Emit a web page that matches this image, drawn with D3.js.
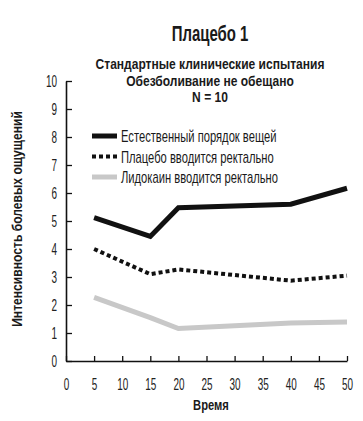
<!DOCTYPE html>
<html>
<head>
<meta charset="utf-8">
<script src="https://cdn.jsdelivr.net/npm/d3@7"></script>
<style>
  body { margin: 0; background: #fff; }
  svg { font-family: "Liberation Sans", Arial, sans-serif; }
</style>
</head>
<body>
<div id="chart"></div>
<script>
// data
var times = [5, 15, 20, 40, 50];
var natural = [5.12, 4.45, 5.47, 5.6, 6.17];
var placebo = [4.0, 3.1, 3.27, 2.87, 3.05];
var lidocaine = [2.27, 1.55, 1.16, 1.36, 1.39];
var seriesNames = ["Естественный порядок вещей", "Плацебо вводится ректально", "Лидокаин вводится ректально"];
var xTicks = [0, 5, 10, 15, 20, 25, 30, 35, 40, 45, 50];
var yTicks = [0, 1, 2, 3, 4, 5, 6, 7, 8, 9, 10];

var width = 363, height = 421;
var margin = {left: 66, right: 16, top: 81, bottom: 60};

var svg = d3.select("#chart").append("svg")
    .attr("width", width)
    .attr("height", height);

// narrow text: the original uses a condensed face, squeeze horizontally
function label(parent, x, y, str, size, weight, anchor, k, rot) {
    var t = "translate(" + x + "," + y + ")" + (rot ? " rotate(" + rot + ")" : "") + " scale(" + k + ",1)";
    return parent.append("text")
        .attr("transform", t)
        .attr("text-anchor", anchor)
        .attr("font-size", size)
        .attr("font-weight", weight)
        .attr("fill", "#1a1a1a")
        .text(str);
}

var x = d3.scaleLinear().domain([0, 50]).range([margin.left, width - margin.right]);
var y = d3.scaleLinear().domain([0, 10]).range([height - margin.bottom, margin.top]);

var tickK = 0.62;

// axes, ticks point inward
var xAxis = svg.append("g")
    .attr("transform", "translate(0," + y(0) + ")")
    .call(d3.axisBottom(x).tickValues(xTicks).tickSize(-5).tickPadding(10).tickSizeOuter(0));
var yAxis = svg.append("g")
    .attr("transform", "translate(" + x(0) + ",0)")
    .call(d3.axisLeft(y).tickValues(yTicks).tickSize(-6).tickPadding(9).tickSizeOuter(0));

svg.selectAll(".domain").attr("stroke", "#111").attr("stroke-width", 1.6);
svg.selectAll(".tick line").attr("stroke", "#111").attr("stroke-width", 1.3);
svg.selectAll(".tick text")
    .attr("font-size", 16)
    .attr("fill", "#222")
    .attr("font-family", "Liberation Sans, Arial, sans-serif");
xAxis.selectAll(".tick text").attr("y", 15).attr("dy", "0.9em").attr("transform", "scale(" + tickK + ",1)");
yAxis.selectAll(".tick text").attr("x", -9 / tickK).attr("transform", "scale(" + tickK + ",1)");

var line = d3.line()
    .x(function(d, i) { return x(times[i]); })
    .y(function(d) { return y(d); });

var styles = [
    {data: natural, color: "#111", width: 5, dash: null},
    {data: placebo, color: "#111", width: 4, dash: "4,3"},
    {data: lidocaine, color: "#c8c8c8", width: 5, dash: null}
];

styles.forEach(function(s) {
    svg.append("path")
        .datum(s.data)
        .attr("d", line)
        .attr("fill", "none")
        .attr("stroke", s.color)
        .attr("stroke-width", s.width)
        .attr("stroke-dasharray", s.dash)
        .attr("stroke-linejoin", "miter");
});

// legend
var legend = svg.append("g");
styles.forEach(function(s, i) {
    var ly = 136 + i * 20.5;
    legend.append("line")
        .attr("x1", 92).attr("x2", 117)
        .attr("y1", ly).attr("y2", ly)
        .attr("stroke", s.color)
        .attr("stroke-width", s.width)
        .attr("stroke-dasharray", s.dash);
    label(legend, 121, ly + 6, seriesNames[i], 16, "normal", "start", 0.7);
});

// titles
label(svg, 210, 41, "Плацебо 1", 22, "bold", "middle", 0.68);

var sub = ["Стандартные клинические испытания", "Обезболивание не обещано", "N = 10"];
sub.forEach(function(t, i) {
    label(svg, 210, 69 + i * 16.5, t, 14.5, "bold", "middle", 0.83);
});

label(svg, 22, 219, "Интенсивность болевых ощущений", 14, "bold", "middle", 0.865, -90);
label(svg, 211, 410, "Время", 14, "bold", "middle", 0.8);
</script>
</body>
</html>
